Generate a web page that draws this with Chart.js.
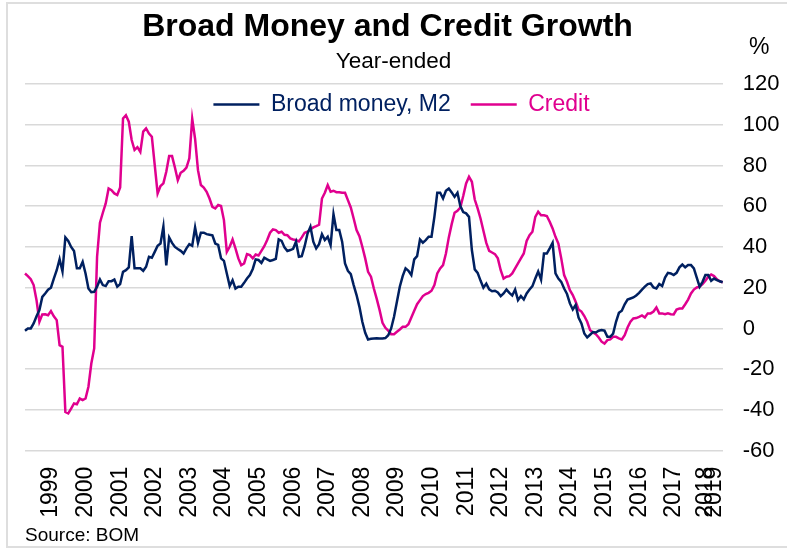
<!DOCTYPE html>
<html>
<head>
<meta charset="utf-8">
<title>Broad Money and Credit Growth</title>
<script src="https://cdn.jsdelivr.net/npm/chart.js@4.4.0/dist/chart.umd.min.js"></script>
<style>
  html, body { margin: 0; padding: 0; background: #fff; overflow: hidden; }
  #wrap { position: relative; width: 787px; height: 549px; }
  #moneyCreditChart { display: block; }
  #frame { position: absolute; left: 6px; top: 2px; width: 800px; height: 546px; border: 2px solid #dedede; box-sizing: border-box; pointer-events: none; }
  .note { position: absolute; font-family: 'Liberation Sans', Arial, sans-serif; color: #000; white-space: nowrap; }
</style>
</head>
<body>
<div id="wrap">
  <canvas id="moneyCreditChart" width="787" height="549"></canvas>
  <div id="frame"></div>
  <div class="note" style="left:749px; top:35px; font-size:23px; line-height:23px;">%</div>
  <div class="note" style="left:25px; top:525px; font-size:19px; line-height:19px;">Source: BOM</div>
</div>
<script>
// year-ended growth, monthly, %
const m2 = [
  -1.1, 0, 0, 2.5, 6, 9, 15.5, 17.2, 19, 20,
  24.5, 28.6, 34, 28, 44.7, 43, 40, 38, 29.5, 29.5,
  32.7, 27, 19.6, 17.8, 18, 20.5, 24, 21.3, 20.8, 23.2,
  23.2, 24, 20.5, 21.8, 27.8, 28.6, 30, 45.3, 29.5, 29.5,
  29.5, 28.3, 30.3, 35.2, 34.7, 37.6, 40.6, 41.7, 50, 31,
  44.7, 42, 40, 39, 38.1, 36.8, 39.3, 41.4, 40.6, 49.6,
  42, 47, 47, 46.3, 46, 45.7, 41.7, 41, 34.4, 33.2,
  27, 20.8, 23.7, 19.6, 20.5, 20.5, 22.4, 24.5, 26.2, 29.2,
  33.9, 33.6, 32.2, 34.7, 33.9, 33.2, 33.6, 34.2, 43.7, 43,
  39.8, 38, 38.5, 39.1, 42.6, 35.2, 35.5, 40.4, 46.6, 49.9,
  42.6, 39.3, 41.4, 46.3, 43.4, 45, 40.9, 56.1, 48.3, 48.3,
  42.6, 31.9, 28.3, 26.7, 21.3, 16.4, 10.6, 3.3, -2.1, -5.4,
  -5.1, -4.9, -4.8, -4.9, -4.9, -4.7, -3.3, 0, 5.7, 13.1,
  20.5, 25.7, 29.5, 28.3, 26.2, 33.9, 35.5, 43.7, 42.1, 43.4,
  45, 45, 54.8, 66.6, 66.6, 63.8, 67.6, 68.7, 66.8, 64.6,
  66.6, 60.1, 57.1, 56.5, 54.8, 38.5, 29, 27.3, 23.5, 20,
  22, 19.2, 18.3, 18.5, 17.7, 15.9, 17.2, 19.1, 17.5, 16.2,
  19.1, 13.9, 15.9, 14.2, 17.2, 19.1, 20.8, 24.5, 28, 24,
  36.8, 36.8, 39.3, 42, 27, 24.5, 22.9, 19.6, 16.9, 12.3,
  9.3, 11.5, 5.4, 2.5, -2.5, -4.4, -3.1, -1.8, -2, -1.1,
  -0.8, -1.1, -4.1, -4.1, -2.5, 3.3, 7.7, 8.7, 11.9, 14.2,
  14.7, 15.2, 16.2, 17.5, 19.1, 20.5, 21.8, 22.1, 20.1, 19.6,
  21.8, 20.8, 25, 27.3, 27, 26.2, 27.3, 30, 31.4, 30,
  31.1, 31.1, 29.5, 25, 20.5, 22.9, 26.2, 26.2, 23.4, 24.5,
  23.7, 23.2, 22.7
];

const credit = [
  27, 25.7, 24.2, 21.3, 13.9, 3.3, 6.9, 7, 6.5, 8.5,
  6, 4.1, -8.2, -9, -41, -41.7, -39.3, -36.8, -37.2, -34.4,
  -35.2, -34.4, -28.6, -17.2, -9.8, 35.2, 51.9, 56.8, 61.4, 68.7,
  67.9, 66.3, 65.5, 69.2, 103.1, 104.7, 101.5, 92.5, 87.6, 89,
  86.7, 96.6, 98.2, 95.7, 94.1, 80.2, 66.3, 69.9, 71.2, 76.9,
  84.6, 84.6, 79, 72.8, 76.4, 77.4, 79, 83.5, 103, 93,
  77.7, 70.4, 69.2, 67.1, 63.8, 59.7, 58.9, 60.6, 60.1, 53.2,
  37.6, 40.1, 43.7, 39.3, 34.4, 31.1, 31.9, 36.5, 36, 34.4,
  36.3, 35.8, 38.1, 40.4, 43.4, 47, 48.6, 48.3, 47, 47.5,
  46, 45.8, 44.2, 43.7, 43.4, 42.7, 44.7, 47, 47.5, 48.6,
  49.6, 50.2, 50.9, 63.8, 66.6, 70.4, 67.1, 67.6, 66.9, 66.9,
  66.6, 66.6, 63, 59.4, 54, 48.3, 45.3, 40.1, 34.4, 27.8,
  25.4, 19.6, 14.5, 9, 2.8, 0.3, -1.1, -2.8, -2.8, -1.6,
  -0.5, 0.8, 0.8, 2.1, 5.4, 8.7, 11.9, 13.9, 15.9, 16.9,
  17.5, 18.5, 21.3, 27, 29.5, 31.1, 36.8, 44.7, 51.2, 56.8,
  57.8, 59.4, 65, 71.2, 74.5, 72, 63.3, 58.9, 54, 48,
  42, 38.1, 37.3, 36.5, 34.4, 28.6, 24.5, 25.4, 25.7, 27,
  29.5, 31.9, 34.4, 36.8, 43, 45.8, 47.5, 54.8, 57.3, 55.6,
  55.6, 55.2, 52.4, 49.1, 45, 41.7, 34.4, 26.2, 22.9, 18.8,
  16.4, 13.1, 9.3, 8.3, 6.1, 3.3, -0.8, -2, -2.8, -4.4,
  -6.5, -7.4, -5.7, -5.4, -4.1, -4.1, -4.9, -5.4, -3.3, 0.5,
  3.3, 4.9, 5.1, 5.7, 6.4, 5.4, 7.4, 7.4, 8.3, 10.3,
  7.4, 7.4, 7, 7.4, 7, 6.9, 9.3, 9.8, 9.8, 11.9,
  14.2, 17.2, 19.1, 20.1, 20.5, 21.8, 23.4, 25.4, 26.5, 25.7,
  24.1, 23.1, 22.7
];

// year labels and the month they sit on
const yearLabels = ['1999', '2000', '2001', '2002', '2003', '2004', '2005', '2006', '2007', '2008',
  '2009', '2010', '2011', '2012', '2013', '2014', '2015', '2016', '2017', '2018', '2019'];
const yearTickIdx = [8, 20, 32, 44, 56, 68, 80, 92, 104, 116,
  128, 140, 152, 164, 176, 188, 200, 212, 224, 235, 238];

const navy = '#002060';
const pink = '#e0008f';
const fontFamily = "'Liberation Sans', Arial, sans-serif";

const tickText = m2.map(() => null);
yearTickIdx.forEach((k, j) => { tickText[k] = yearLabels[j]; });

// legend sits inside the plot, just under the 120 line; titles nudged left a little
const legendInPlot = {
  id: 'legendInPlot',
  afterInit(chart) {
    const legend = chart.legend;
    if (!legend || legend._inPlot) return;
    const fit = legend.fit;
    legend.fit = function () {
      fit.call(this);
      this.height = 0;
    };
    legend._inPlot = true;
  },
  afterLayout(chart) {
    const legend = chart.legend;
    legend.top = chart.chartArea.top - 11;
    legend.bottom = legend.top + 60;
    legend.height = 60;
    legend.left += 8;
    legend.right += 8;
    [chart.titleBlock, chart.$subtitle].forEach(box => {
      if (box) {
        box.left -= 6;
        box.right -= 6;
      }
    });
  }
};

new Chart(document.getElementById('moneyCreditChart'), {
  type: 'line',
  data: {
    labels: m2.map((_, i) => i),
    datasets: [{
      label: 'Broad money, M2',
      data: m2,
      borderColor: navy,
      backgroundColor: navy,
      borderWidth: 2.5,
      pointRadius: 0,
      tension: 0,
      yAxisID: 'y'
    },
    {
      label: 'Credit',
      data: credit,
      borderColor: pink,
      backgroundColor: pink,
      borderWidth: 2.5,
      pointRadius: 0,
      tension: 0,
      yAxisID: 'y'
    }]
  },
  options: {
    responsive: false,
    animation: false,
    devicePixelRatio: 1,
    layout: {
      padding: { left: 0, right: 0, top: 0, bottom: 0 }
    },
    plugins: {
      title: {
        display: true,
        text: 'Broad Money and Credit Growth',
        color: '#000',
        font: { family: fontFamily, size: 32, weight: 'bold' },
        padding: { top: 7.8, bottom: 0 }
      },
      subtitle: {
        display: true,
        text: 'Year-ended',
        color: '#000',
        font: { family: fontFamily, size: 22.5 },
        padding: { top: 2.3, bottom: 8.5 }
      },
      legend: {
        display: true,
        labels: {
          usePointStyle: true,
          pointStyle: 'line',
          pointStyleWidth: 46,
          padding: 20,
          font: { family: fontFamily, size: 23 },
          generateLabels: (chart) => {
            const items = Chart.defaults.plugins.legend.labels.generateLabels(chart);
            items.forEach(item => { item.fontColor = item.strokeStyle; });
            return items;
          }
        }
      },
      tooltip: { enabled: false }
    },
    scales: {
      x: {
        grid: { display: false, drawTicks: false },
        border: { display: false },
        ticks: {
          autoSkip: false,
          minRotation: 90,
          maxRotation: 90,
          padding: 16,
          labelOffset: 3,
          color: '#000',
          font: { family: fontFamily, size: 23 },
          callback: (value, index) => tickText[index]
        },
        afterFit: (scale) => {
          scale.height = 98.3;
          scale.paddingLeft = 0;
          scale.paddingRight = 0;
        }
      },
      pad: {
        type: 'linear',
        position: 'left',
        grid: { display: false },
        border: { display: false },
        ticks: { display: false },
        afterFit: (scale) => { scale.width = 25; }
      },
      y: {
        position: 'right',
        min: -60,
        max: 120,
        ticks: {
          stepSize: 20,
          padding: 20,
          color: '#000',
          font: { family: fontFamily, size: 22 }
        },
        grid: { color: '#d9d9d9', lineWidth: 1.5, drawTicks: false },
        border: { display: false },
        afterFit: (scale) => {
          scale.width = 64.3;
          scale.paddingTop = 0;
          scale.paddingBottom = 0;
        }
      }
    }
  },
  plugins: [legendInPlot]
});
</script>
</body>
</html>
